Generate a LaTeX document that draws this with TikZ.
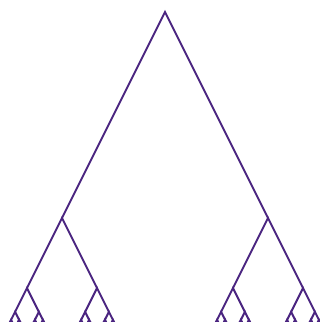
\documentclass[tikz,border=0pt]{standalone}
\definecolor{treepurple}{RGB}{74,36,128}
\tikzset{branch/.style={draw=treepurple,line width=2pt,line join=miter}}
\newcommand\ftree[4]{%
  \ifnum#4>0\relax
    \begingroup
    \pgfmathsetmacro\fx{#1}%
    \pgfmathsetmacro\fy{#2}%
    \pgfmathsetmacro\fd{#3}%
    \pgfmathsetmacro\fxl{\fx-\fd}%
    \pgfmathsetmacro\fxr{\fx+\fd}%
    \pgfmathsetmacro\fyb{\fy+2*\fd}%
    \pgfmathsetmacro\fdn{\fd*0.34}%
    \pgfmathtruncatemacro\flev{#4-1}%
    \path[branch] (\fxl,\fyb) -- (\fx,\fy) -- (\fxr,\fyb);
    \edef\next{\noexpand\ftree{\fxl}{\fyb}{\fdn}{\flev}\noexpand\ftree{\fxr}{\fyb}{\fdn}{\flev}}%
    \expandafter\endgroup\next
  \fi}
\begin{document}
\begin{tikzpicture}[x=1pt,y=-1pt]
\useasboundingbox (0,0) rectangle (320,322);
\clip (0,0) rectangle (320,322);
\ftree{165}{12}{103}{6}
\end{tikzpicture}
\end{document}
